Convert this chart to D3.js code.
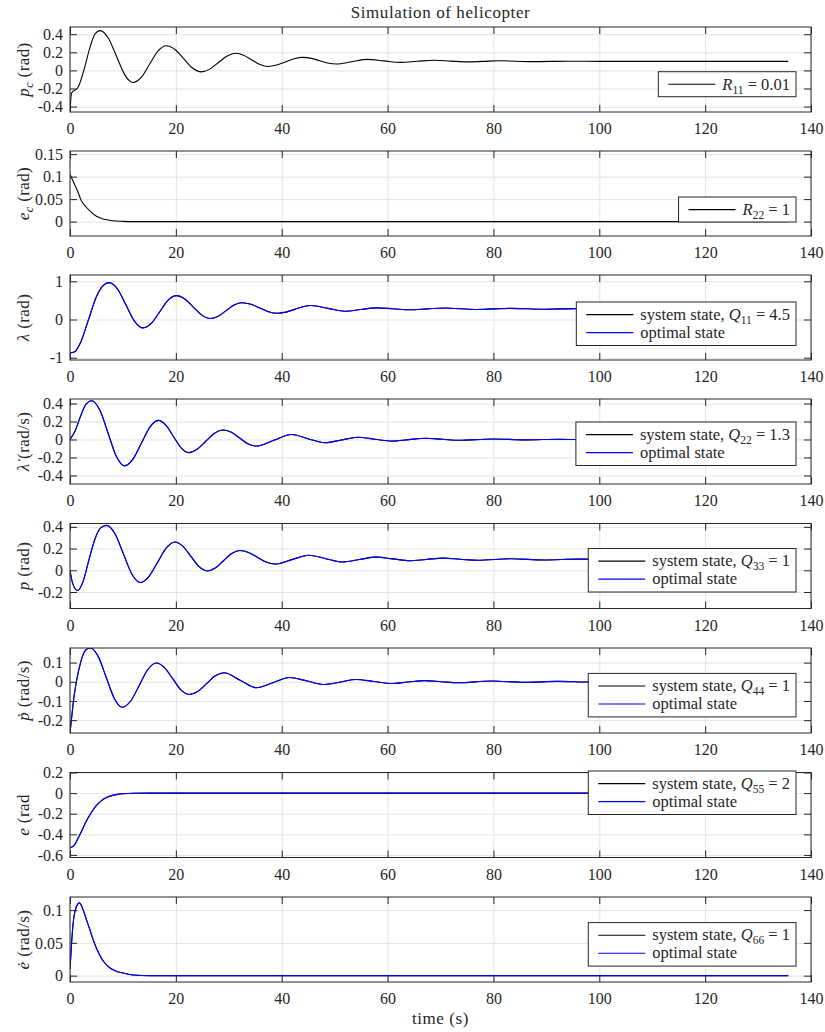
<!DOCTYPE html>
<html><head><meta charset="utf-8">
<script src="https://cdn.jsdelivr.net/npm/d3@7"></script>
<style>
body{margin:0;background:#fff;}
svg text{font-family:"Liberation Serif","Times New Roman",serif;fill:#262626;}
</style></head><body>
<svg id="chart" width="825" height="1032"></svg>
<script>
// ---------------- data ----------------
const xTicks = [0,20,40,60,80,100,120,140];

// p_c (reference, R11 = 0.01)
const pcTime   = [0,0.3,1.5,2.8,3.8,4.7,5.7,7.25,8.8,10.35,11.9,13.5,15.05,16.6,18.2,19.85,21.5,23.15,24.8,26.4,28.05,29.7,31.3,32.8,34.35,35.9,37.4,39.05,40.7,42.35,44,45.6,47.15,48.7,50.3,53.25,56.2,59.3,62.5,65.6,68.8,72,75,78,81,87.5,94,100,110,120,130,135.7];
const pcValues = [-0.45,-0.25,-0.19,0.04,0.26,0.40,0.44,0.356,0.154,-0.049,-0.133,-0.074,0.07,0.214,0.273,0.231,0.128,0.026,-0.016,0.014,0.087,0.159,0.189,0.168,0.116,0.065,0.044,0.059,0.094,0.129,0.144,0.133,0.107,0.081,0.07,0.096,0.122,0.105,0.089,0.101,0.113,0.103,0.094,0.1,0.106,0.097,0.102,0.1,0.1,0.1,0.1,0.1];

// e_c (reference, R22 = 1)
const ecTime   = [0,0.5,1,1.5,2,3,4,5,6,7,8,10,12,20,40,80,135.7];
const ecValues = [0.105,0.092,0.079,0.066,0.05,0.033,0.021,0.012,0.007,0.004,0.002,0.0005,0,0,0,0,0];

// lambda
const lamTime   = [0,0.8,2,3.5,5,6.2,7.4,9,10.6,12.2,13.8,15.4,16.95,18.5,20.1,21.7,23.3,24.9,26.5,28,29.5,31,32.5,34.2,35.85,37.5,39.2,40.8,42.4,44,45.6,48.75,51.9,54.9,57.9,61.1,64.3,67.5,70.8,73.8,76.9,80,83,89.5,95.5,100,110,120,135.7];
const lamSystem = [-0.87,-0.85,-0.6,0,0.6,0.88,0.966,0.793,0.373,-0.047,-0.22,-0.096,0.203,0.502,0.626,0.538,0.326,0.114,0.026,0.086,0.233,0.38,0.44,0.4,0.302,0.204,0.164,0.193,0.265,0.336,0.365,0.291,0.217,0.261,0.305,0.28,0.255,0.278,0.30,0.281,0.262,0.277,0.292,0.27,0.285,0.28,0.28,0.28,0.28];
const lamOptimal = lamSystem.slice();

// lambda dot
const lamDotTime   = [0,1,2,3,4.1,5.65,7.2,8.75,10.3,11.9,13.5,15.1,16.7,18.1,19.55,21,22.4,24,25.65,27.3,28.9,30.5,32.05,33.6,35.2,38.5,41.8,44.95,48.1,51.25,54.4,57.6,60.9,64,67.2,70.4,73.5,79.8,86.1,92.4,98.7,105,115,135.7];
const lamDotSystem = [0,0.1,0.26,0.39,0.43,0.324,0.069,-0.187,-0.293,-0.219,-0.04,0.138,0.212,0.16,0.033,-0.094,-0.146,-0.109,-0.02,0.069,0.106,0.08,0.016,-0.047,-0.073,-0.009,0.055,0.009,-0.037,-0.006,0.025,0.003,-0.018,-0.002,0.013,0.002,-0.009,0.006,-0.004,0.003,-0.002,0.001,0,0];
const lamDotOptimal = lamDotSystem.slice();

// p
const pTime   = [0,0.5,1.45,2.5,3.6,4.8,5.8,6.9,8.5,10.1,11.7,13.3,14.9,16.55,18.2,19.8,21.3,22.85,24.4,25.9,27.45,29,30.55,32.1,33.75,35.4,37.05,38.7,41.9,45.1,48.3,51.5,54.65,57.8,61,64.2,67.3,70.5,73.7,77,83.3,89.6,96,105,120,135.7];
const pSystem = [0,-0.12,-0.186,-0.1,0.1,0.3,0.39,0.414,0.337,0.15,-0.036,-0.113,-0.058,0.074,0.206,0.261,0.222,0.128,0.033,-0.006,0.021,0.088,0.155,0.182,0.164,0.12,0.076,0.058,0.098,0.138,0.107,0.076,0.099,0.121,0.105,0.088,0.1,0.112,0.102,0.092,0.106,0.095,0.103,0.1,0.1,0.1];
const pOptimal = pSystem.slice();

// p dot
const pDotTime   = [0,0.3,0.7,1.2,2,2.9,3.8,5.35,6.85,8.4,9.9,11.5,13.1,14.7,16.3,17.85,19.4,20.95,22.5,24.15,25.8,27.45,29.1,32.15,35.2,38.35,41.5,44.8,48.1,51.1,54.1,57.4,60.7,63.85,67,70.15,73.3,79.6,85.9,92.2,98.5,105,135.7];
const pDotSystem = [-0.267,-0.19,-0.09,0,0.1,0.163,0.176,0.131,0.022,-0.088,-0.133,-0.099,-0.018,0.064,0.098,0.074,0.016,-0.042,-0.066,-0.05,-0.01,0.031,0.047,0.008,-0.031,-0.005,0.022,0.004,-0.014,-0.001,0.012,0.0015,-0.009,-0.0015,0.006,0.0005,-0.005,0.004,-0.003,0.002,-0.0015,0,0];
const pDotOptimal = pDotSystem.slice();

// e
const eTime   = [0,0.5,1,1.5,2,3,4,5,6,7,8,9,10,12,15,40,80,135.7];
const eSystem = [-0.53,-0.52,-0.49,-0.44,-0.39,-0.28,-0.19,-0.12,-0.07,-0.04,-0.022,-0.012,-0.006,-0.001,0,0,0,0];
const eOptimal = eSystem.slice();

// e dot
const eDotTime   = [0,0.3,0.6,1,1.76,2.5,3,3.8,4.5,5.7,6.5,7.5,9,10,12,15,40,80,135.7];
const eDotSystem = [0.01,0.05,0.08,0.1,0.111,0.1,0.088,0.069,0.052,0.03,0.02,0.012,0.006,0.004,0.001,0,0,0,0];
const eDotOptimal = eDotSystem.slice();

// ---------------- panel table ----------------
const panels = [
  {t:pcTime, sys:pcValues, opt:null, domain:[-0.46,0.48], ticks:[-0.4,-0.2,0,0.2,0.4],
   ylab:[{s:'p',i:1},{s:'c',i:1,sub:1},{s:' (rad)'}],
   leg:[[{s:'R',i:1},{s:'11',sub:1},{s:' = 0.01'}]], legTop:44.7},
  {t:ecTime, sys:ecValues, opt:null, domain:[-0.032,0.157], ticks:[0,0.05,0.1,0.15],
   ylab:[{s:'e',i:1},{s:'c',i:1,sub:1},{s:' (rad)'}],
   leg:[[{s:'R',i:1},{s:'22',sub:1},{s:' = 1'}]], legTop:46},
  {t:lamTime, sys:lamSystem, opt:lamOptimal, domain:[-1.06,1.165], ticks:[-1,0,1],
   ylab:[{s:'λ',i:1},{s:' (rad)'}],
   leg:[[{s:'system state, '},{s:'Q',i:1},{s:'11',sub:1},{s:' = 4.5'}],[{s:'optimal state'}]], legTop:27},
  {t:lamDotTime, sys:lamDotSystem, opt:lamDotOptimal, domain:[-0.495,0.45], ticks:[-0.4,-0.2,0,0.2,0.4],
   ylab:[{s:'λ\u0307',i:1},{s:' (rad/s)'}],
   leg:[[{s:'system state, '},{s:'Q',i:1},{s:'22',sub:1},{s:' = 1.3'}],[{s:'optimal state'}]], legTop:23},
  {t:pTime, sys:pSystem, opt:pOptimal, domain:[-0.352,0.431], ticks:[-0.2,0,0.2,0.4],
   ylab:[{s:'p',i:1},{s:' (rad)'}],
   leg:[[{s:'system state, '},{s:'Q',i:1},{s:'33',sub:1},{s:' = 1'}],[{s:'optimal state'}]], legTop:25},
  {t:pDotTime, sys:pDotSystem, opt:pDotOptimal, domain:[-0.267,0.176], ticks:[-0.2,-0.1,0,0.1],
   ylab:[{s:'p\u0307',i:1},{s:' (rad/s)'}],
   leg:[[{s:'system state, '},{s:'Q',i:1},{s:'44',sub:1},{s:' = 1'}],[{s:'optimal state'}]], legTop:25.4},
  {t:eTime, sys:eSystem, opt:eOptimal, domain:[-0.625,0.2], ticks:[-0.6,-0.4,-0.2,0,0.2],
   ylab:[{s:'e',i:1},{s:' (rad'}],
   leg:[[{s:'system state, '},{s:'Q',i:1},{s:'55',sub:1},{s:' = 2'}],[{s:'optimal state'}]], legTop:-1.5},
  {t:eDotTime, sys:eDotSystem, opt:eDotOptimal, domain:[-0.0097,0.12], ticks:[0,0.05,0.1],
   ylab:[{s:'e\u0307',i:1},{s:' (rad/s)'}],
   leg:[[{s:'system state, '},{s:'Q',i:1},{s:'66',sub:1},{s:' = 1'}],[{s:'optimal state'}]], legTop:25.6}
];

// ---------------- drawing ----------------
const svg = d3.select('#chart');
const SERIF = '"Liberation Serif","Times New Roman",serif';
const L = 70, R = 811, H = 85, W = R - L;
const tops = [27, 151, 275, 399, 523.5, 648, 772.5, 897];
const x = d3.scaleLinear().domain([0,140]).range([L,R]);
const FS = 16, LFS = 16.5, LAB = 17;
const axisCol = '#262626', gridCol = '#e3e3e3';

function richText(sel, parts, size){
  parts.forEach(p=>{
    const ts = sel.append('tspan').text(p.s);
    if(p.i) ts.attr('font-style','italic');
    if(p.sub){ ts.attr('font-size', size*0.7).attr('dy', 4); }
    else if(sel.attr('data-sub')==='1'){ ts.attr('dy', -4); }
    sel.attr('data-sub', p.sub ? '1' : '0');
  });
}

svg.append('text').attr('x', (L+R)/2).attr('y', 18).attr('text-anchor','middle')
  .attr('font-family', SERIF).attr('font-size', LAB).attr('letter-spacing', 0.6).text('Simulation of helicopter');

panels.forEach((p, i)=>{
  const top = tops[i];
  const y = d3.scaleLinear().domain(p.domain).range([top+H, top]);
  const g = svg.append('g').attr('font-family', SERIF);

  // grid
  g.append('g').attr('transform',`translate(0,${top+H})`)
    .call(d3.axisBottom(x).tickValues(xTicks).tickSize(-H).tickFormat(''))
    .call(s=>{s.select('.domain').remove(); s.selectAll('line').attr('stroke',gridCol).attr('stroke-width',1);});
  g.append('g').attr('transform',`translate(${L},0)`)
    .call(d3.axisLeft(y).tickValues(p.ticks).tickSize(-W).tickFormat(''))
    .call(s=>{s.select('.domain').remove(); s.selectAll('line').attr('stroke',gridCol).attr('stroke-width',1);});

  // lines
  const cid = 'clip'+i;
  svg.append('clipPath').attr('id',cid).append('rect').attr('x',L).attr('y',top).attr('width',W).attr('height',H);
  const line = d3.line().x(d=>x(d[0])).y(d=>y(d[1])).curve(d3.curveMonotoneX);
  const sysPts = p.t.map((t,k)=>[t,p.sys[k]]);
  g.append('path').attr('clip-path',`url(#${cid})`).attr('d', line(sysPts))
    .attr('fill','none').attr('stroke','#000').attr('stroke-width',1.1);
  if(p.opt){
    const optPts = p.t.map((t,k)=>[t,p.opt[k]]);
    g.append('path').attr('clip-path',`url(#${cid})`).attr('d', line(optPts))
      .attr('fill','none').attr('stroke','#0000ff').attr('stroke-width',1.1);
  }

  // inward ticks on all four sides
  const tk = 7;
  const styleTicks = s=>{s.select('.domain').remove(); s.selectAll('line').attr('stroke',axisCol);};
  g.append('g').attr('transform',`translate(0,${top+H})`).call(d3.axisBottom(x).tickValues(xTicks).tickSize(-tk).tickFormat('')).call(styleTicks);
  g.append('g').attr('transform',`translate(0,${top})`).call(d3.axisTop(x).tickValues(xTicks).tickSize(-tk).tickFormat('')).call(styleTicks);
  g.append('g').attr('transform',`translate(${L},0)`).call(d3.axisLeft(y).tickValues(p.ticks).tickSize(-tk).tickFormat('')).call(styleTicks);
  g.append('g').attr('transform',`translate(${R},0)`).call(d3.axisRight(y).tickValues(p.ticks).tickSize(-tk).tickFormat('')).call(styleTicks);

  // box
  g.append('rect').attr('x',L).attr('y',top).attr('width',W).attr('height',H)
    .attr('fill','none').attr('stroke',axisCol).attr('stroke-width',1);

  // tick labels
  g.append('g').attr('transform',`translate(0,${top+H})`)
    .call(d3.axisBottom(x).tickValues(xTicks).tickSize(0).tickPadding(11).tickFormat(d=>String(d)))
    .attr('font-family', SERIF).attr('font-size', FS)
    .call(s=>{s.select('.domain').remove(); s.selectAll('text').attr('font-family',SERIF).attr('font-size',FS).attr('fill',axisCol);});
  g.append('g').attr('transform',`translate(${L},0)`)
    .call(d3.axisLeft(y).tickValues(p.ticks).tickSize(0).tickPadding(7).tickFormat(d=>String(d)))
    .attr('font-family', SERIF).attr('font-size', FS)
    .call(s=>{s.select('.domain').remove(); s.selectAll('text').attr('font-family',SERIF).attr('font-size',FS).attr('fill',axisCol);});

  // y label
  const yl = g.append('text').attr('transform',`translate(29,${top+H/2}) rotate(-90)`)
    .attr('text-anchor','middle').attr('font-family',SERIF).attr('font-size',LAB).attr('letter-spacing',0.4);
  richText(yl, p.ylab, LAB);

  // legend
  const lg = g.append('g');
  const rows = p.leg;
  const rowH = 18, padTop = 12.6;
  const lineLen = 47, padL = 10, gap = 7, padR = 6;
  const boxH = rows.length === 1 ? 25 : 43.5;
  const bg = lg.append('rect');
  const texts = rows.map((r, k)=>{
    const t = lg.append('text').attr('font-family',SERIF).attr('font-size',LFS).attr('dy','0.32em');
    richText(t, r, LFS);
    return t;
  });
  const tw = d3.max(texts, t=>t.node().getComputedTextLength());
  const boxW = padL + lineLen + gap + tw + padR;
  const bx = 796 - boxW, by = top + p.legTop;
  bg.attr('x',bx).attr('y',by).attr('width',boxW).attr('height',boxH)
    .attr('fill','#fff').attr('stroke',axisCol).attr('stroke-width',1);
  texts.forEach((t,k)=>{
    const ry = by + padTop + k*rowH;
    t.attr('x', bx + padL + lineLen + gap).attr('y', ry);
    lg.append('line').attr('x1',bx+padL).attr('x2',bx+padL+lineLen).attr('y1',ry).attr('y2',ry)
      .attr('stroke', k===0 ? '#000' : '#0000ff').attr('stroke-width',1.1);
  });
});

svg.append('text').attr('x', (L+R)/2).attr('y', 1024).attr('text-anchor','middle')
  .attr('font-family', SERIF).attr('font-size', LAB).attr('letter-spacing', 0.6).text('time (s)');
</script>
</body></html>
